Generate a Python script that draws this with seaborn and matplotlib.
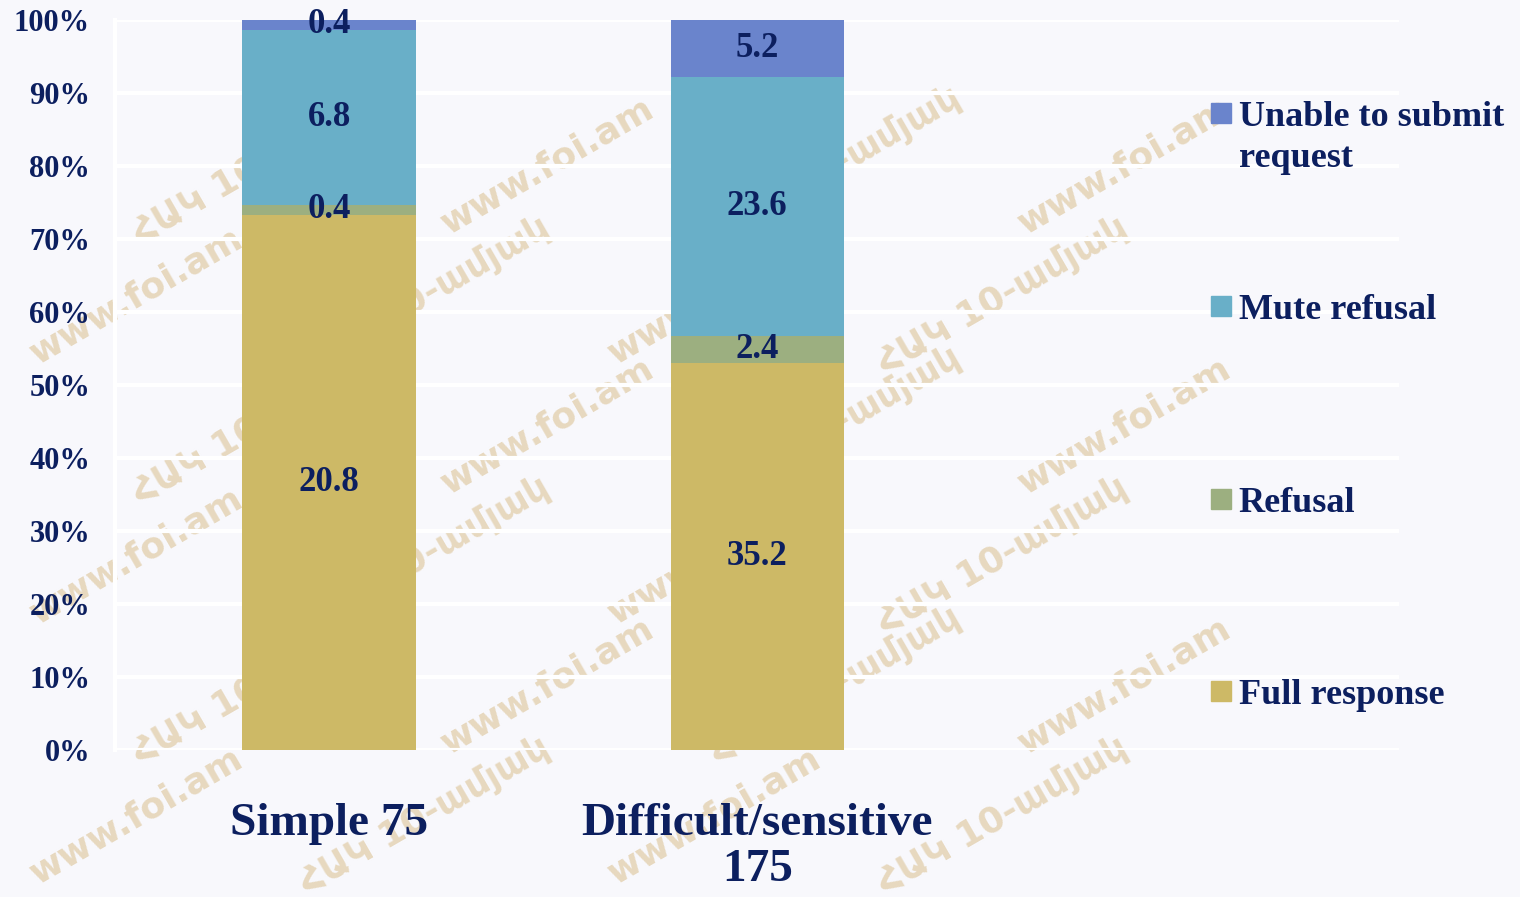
import numpy as np
import pandas as pd
import seaborn as sns
import matplotlib.pyplot as plt
from matplotlib.patches import Rectangle

groups = ['Simple 75', 'Difficult/sensitive\n175']
outcomes = ['Full response', 'Refusal', 'Mute refusal', 'Unable to submit\nrequest']
full_response = [20.8, 35.2]
refusal = [0.4, 2.4]
mute_refusal = [6.8, 23.6]
unable_to_submit = [0.4, 5.2]
colors = ['#CDB966', '#9CAF80', '#69AFC8', '#6A84CC']
navy = '#0C1F5F'

sns.set_theme(style='white')
plt.rcParams['font.family'] = ['Liberation Serif', 'DejaVu Serif']
plt.rcParams['font.weight'] = 'bold'

values = pd.DataFrame([full_response, refusal, mute_refusal, unable_to_submit],
                      index=outcomes, columns=groups)
pct = values / values.sum() * 100
cum = pct.cumsum()

fig = plt.figure(figsize=(15.2, 8.97), dpi=100, facecolor='#F8F8FC')
ax = fig.add_axes([0.0757, 0.164, 0.845, 0.814])
ax.patch.set_alpha(0)

# faint watermark behind everything
wm = ['www.foi.am', 'ՀԱԿ 10-ամյակ']
for r, y in enumerate(np.arange(0.09, 0.92, 0.145)):
    for c, x in enumerate(np.arange(0.09, 0.80, 0.19)):
        fig.text(x + (r % 2) * 0.08, y, wm[(r + c) % 2], rotation=30, fontsize=26,
                 family='DejaVu Sans', color='#D2B274', alpha=0.45,
                 ha='center', va='center', zorder=-5)

# stacked bars, drawn from the top layer down
for i in range(len(outcomes) - 1, -1, -1):
    d = pd.DataFrame({'group': groups, 'cum': cum.iloc[i].values})
    sns.barplot(data=d, x='group', y='cum', color=colors[i], width=0.405,
                saturation=1, linewidth=0, ax=ax, zorder=2)

for j, g in enumerate(groups):
    for i, o in enumerate(outcomes):
        mid = cum.loc[o, g] - pct.loc[o, g] / 2
        ax.text(j, mid, f'{values.loc[o, g]:.1f}', ha='center', va='center',
                fontsize=25, fontweight='bold', color=navy, zorder=3)

ax.set_xlim(-0.5, 2.5)
ax.set_ylim(0, 100)
ax.set_yticks(range(0, 101, 10))
ax.set_yticklabels([f'{t}%' for t in range(0, 101, 10)], fontsize=22,
                   fontweight='bold', color=navy)
ax.set_xticks(range(len(groups)))
ax.set_xticklabels(groups, fontsize=34, fontweight='bold', color=navy,
                   linespacing=1.15)
ax.tick_params(axis='x', pad=38, length=0)
ax.tick_params(axis='y', pad=18, length=0)
ax.set_xlabel('')
ax.set_ylabel('')
ax.grid(axis='y', color='white', linewidth=3, zorder=0)
ax.set_axisbelow(True)
for s in ['top', 'right', 'bottom']:
    ax.spines[s].set_visible(False)
ax.spines['left'].set_color('white')
ax.spines['left'].set_linewidth(3)

# legend, top entry first
legend_y = [0.874, 0.659, 0.444, 0.230]
for k, i in enumerate(range(len(outcomes) - 1, -1, -1)):
    y = legend_y[k]
    fig.patches.append(Rectangle((0.797, y - 0.011), 0.013, 0.022,
                                 transform=fig.transFigure, color=colors[i]))
    fig.text(0.815, y + 0.013, outcomes[i], ha='left', va='top', fontsize=26,
             fontweight='bold', color=navy, linespacing=1.3)

fig.savefig('out.png', dpi=100, facecolor=fig.get_facecolor())
